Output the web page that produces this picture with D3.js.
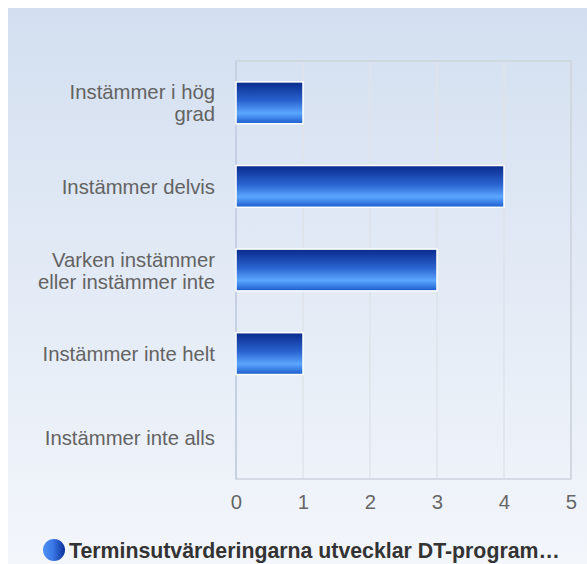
<!DOCTYPE html>
<html>
<head>
<meta charset="utf-8">
<script src="https://cdn.jsdelivr.net/npm/d3@7"></script>
<style>
body{margin:0;background:#fff}
</style>
</head>
<body>
<script>
var categories=[["Instämmer i hög","grad"],["Instämmer delvis"],["Varken instämmer","eller instämmer inte"],["Instämmer inte helt"],["Instämmer inte alls"]]
var values=[1,4,3,1,0]
var xTicks=[0,1,2,3,4,5]
var seriesName="Terminsutvärderingarna utvecklar DT-program…"

var screen={width:587,height:564}
var margin={top:61,right:16,bottom:85,left:236}
var w=screen.width-margin.left-margin.right
var h=screen.height-margin.top-margin.bottom
var font='Liberation Sans, Arial, sans-serif'

var svg=d3.select("body").append("svg")
  .attr('width',screen.width)
  .attr('height',screen.height)

var defs=svg.append("defs")
var bg=defs.append("linearGradient").attr('id','bg').attr('x1',0).attr('y1',0).attr('x2',0).attr('y2',1)
bg.append("stop").attr('offset','0%').attr('stop-color','#d3dff0')
bg.append("stop").attr('offset','100%').attr('stop-color','#f3f6fb')

var bar=defs.append("linearGradient").attr('id','bar').attr('x1',0).attr('y1',0).attr('x2',0).attr('y2',1)
bar.append("stop").attr('offset','0%').attr('stop-color','#092a8c')
bar.append("stop").attr('offset','45%').attr('stop-color','#2a63cf')
bar.append("stop").attr('offset','75%').attr('stop-color','#5ba6ff')
bar.append("stop").attr('offset','100%').attr('stop-color','#1a5bcc')

var dot=defs.append("linearGradient").attr('id','dot').attr('x1',0).attr('y1',0).attr('x2',1).attr('y2',0)
dot.append("stop").attr('offset','0%').attr('stop-color','#4f92f5')
dot.append("stop").attr('offset','45%').attr('stop-color','#3a78e6')
dot.append("stop").attr('offset','100%').attr('stop-color','#0a2e9a')

svg.append("rect")
  .attr('x',8).attr('y',8)
  .attr('width',screen.width-8).attr('height',screen.height-8)
  .attr('fill','url(#bg)')

//scales
var xScale=d3.scaleLinear()
  .domain([0,5])
  .range([0,w])
var yScale=d3.scaleBand()
  .domain(d3.range(categories.length))
  .range([0,h])
  .paddingInner(0.5)
  .paddingOuter(0.25)

var plot=svg.append("g")
  .attr('transform','translate('+margin.left+','+margin.top+')')

// grid
plot.selectAll(".grid")
  .data(xTicks.slice(1))
  .enter()
  .append("line")
  .attr('x1',function(d){return xScale(d)})
  .attr('x2',function(d){return xScale(d)})
  .attr('y1',0).attr('y2',h)
  .attr('stroke','#dfe3ea')
  .attr('stroke-width',1.5)

plot.append("rect")
  .attr('x',0).attr('y',0).attr('width',w).attr('height',h)
  .attr('fill','none')
  .attr('stroke','#cdd3dc')
  .attr('stroke-width',1.5)
plot.append("line")
  .attr('x1',0).attr('x2',0).attr('y1',0).attr('y2',h)
  .attr('stroke','#c7d0e2')
  .attr('stroke-width',2)

// bars
plot.selectAll(".bar")
  .data(values)
  .enter()
  .append("rect")
  .attr('x',xScale(0))
  .attr('y',function(d,i){return yScale(i)})
  .attr('height',yScale.bandwidth())
  .attr('width',function(d){return xScale(d)-xScale(0)})
  .attr('fill','url(#bar)')
  .attr('stroke','#fff')
  .attr('stroke-width',1.5)
  .style('display',function(d){return d>0?null:'none'})

// axes
var xAxis=d3.axisBottom(xScale).tickValues(xTicks).tickFormat(d3.format("d")).tickSize(0).tickPadding(16)
var gx=plot.append("g")
  .attr('transform','translate(0,'+h+')')
  .call(xAxis)
gx.select(".domain").remove()
gx.selectAll("text")
  .attr('font-family',font)
  .attr('font-size',20.3)
  .attr('fill','#666')

var yAxis=d3.axisLeft(yScale).tickSize(0).tickFormat("")
var gy=plot.append("g").call(yAxis)
gy.select(".domain").remove()
gy.selectAll(".tick").each(function(d){
  var lines=categories[d]
  var t=d3.select(this).append("text")
    .attr('x',-21)
    .attr('text-anchor','end')
    .attr('font-family',font)
    .attr('font-size',20.3)
    .attr('fill','#636363')
  lines.forEach(function(l,k){
    t.append("tspan")
      .attr('x',-21)
      .attr('y',(k-(lines.length-1)/2)*22+7.5)
      .text(l)
  })
})

// legend
var legend=svg.append("g").attr('transform','translate(54,550)')
legend.append("circle").attr('r',11).attr('fill','url(#dot)')
legend.append("text")
  .attr('x',15).attr('y',8)
  .attr('font-family',font)
  .attr('font-size',21.3)
  .attr('font-weight','bold')
  .attr('fill','#333')
  .text(seriesName)
</script>
</body>
</html>
